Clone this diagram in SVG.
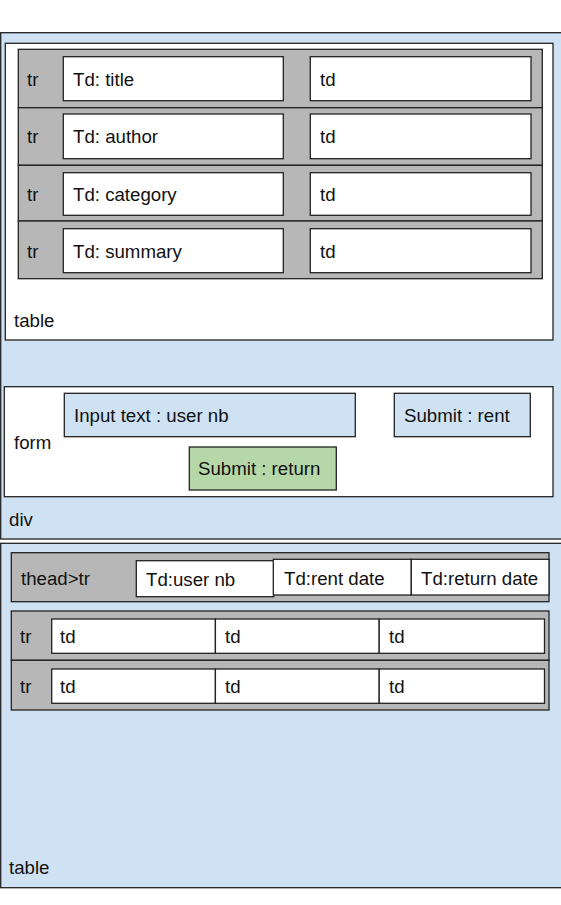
<svg xmlns="http://www.w3.org/2000/svg" width="561" height="905" viewBox="0 0 561 905">
<style>
  rect { stroke: #222222; stroke-width: 1.3; }
  rect.bg { fill: #ffffff; stroke: none; }
  .blue { fill: #cfe2f3; }
  .white { fill: #ffffff; }
  .gray { fill: #b7b7b7; }
  .green { fill: #b6d7a8; }
  text { font-family: "Liberation Sans", Arial, sans-serif; font-size: 18.67px; fill: #111111; }
</style>
<rect class="bg" x="0" y="0" width="561" height="905"/>

<g id="div">
  <rect class="blue" x="0.7" y="32.7" width="600" height="506.3"/>
  <text x="9" y="526">div</text>
</g>

<g id="table1">
  <rect class="white" x="5.3" y="43.3" width="547.7" height="296.7"/>
  <text x="14" y="327">table</text>
</g>

<g id="tr1">
  <rect class="gray" x="18.3" y="49.3" width="524" height="58.4"/>
  <text x="27" y="85.5">tr</text>
  <rect class="white" x="63.3" y="56.7" width="220" height="44"/>
  <text x="73" y="85.5">Td: title</text>
  <rect class="white" x="310.3" y="56.7" width="220.7" height="44"/>
  <text x="320" y="85.5">td</text>
</g>
<g id="tr2">
  <rect class="gray" x="18.3" y="107.7" width="524" height="57.6"/>
  <text x="27" y="143">tr</text>
  <rect class="white" x="63.3" y="114" width="220" height="44.7"/>
  <text x="73" y="143">Td: author</text>
  <rect class="white" x="310.3" y="114" width="220.7" height="44.7"/>
  <text x="320" y="143">td</text>
</g>
<g id="tr3">
  <rect class="gray" x="18.3" y="165.3" width="524" height="55.7"/>
  <text x="27" y="200.5">tr</text>
  <rect class="white" x="63.3" y="172.7" width="220" height="42.6"/>
  <text x="73" y="200.5">Td: category</text>
  <rect class="white" x="310.3" y="172.7" width="220.7" height="42.6"/>
  <text x="320" y="200.5">td</text>
</g>
<g id="tr4">
  <rect class="gray" x="18.3" y="221" width="524" height="57.7"/>
  <text x="27" y="257.5">tr</text>
  <rect class="white" x="63.3" y="228.7" width="220" height="44"/>
  <text x="73" y="257.5">Td: summary</text>
  <rect class="white" x="310.3" y="228.7" width="220.7" height="44"/>
  <text x="320" y="257.5">td</text>
</g>

<g id="form">
  <rect class="white" x="4.3" y="386.7" width="548.7" height="110"/>
  <text x="14" y="449">form</text>
</g>
<g id="input-user">
  <rect class="blue" x="64.3" y="393.3" width="291" height="43.4"/>
  <text x="74" y="421.5">Input text : user nb</text>
</g>
<g id="submit-rent">
  <rect class="blue" x="394.3" y="393.3" width="136" height="43.4"/>
  <text x="404" y="421.5">Submit : rent</text>
</g>
<g id="submit-return">
  <rect class="green" x="189.3" y="447" width="147" height="43"/>
  <text x="198" y="474.5">Submit : return</text>
</g>

<g id="table2">
  <rect class="blue" x="0.7" y="543.3" width="600" height="344.4"/>
  <text x="9" y="874">table</text>
</g>

<g id="thead-tr">
  <rect class="gray" x="11.3" y="552.7" width="537.7" height="49"/>
  <text x="21" y="584.5">thead&gt;tr</text>
  <rect class="white" x="136.3" y="560.7" width="137.4" height="36"/>
  <text x="146" y="585.5">Td:user nb</text>
  <rect class="white" x="273.3" y="559.3" width="138" height="35.7"/>
  <text x="284" y="584.5">Td:rent date</text>
  <rect class="white" x="411.3" y="559.3" width="137.7" height="35.7"/>
  <text x="421" y="584.5">Td:return date</text>
</g>

<g id="body-tr1">
  <rect class="gray" x="11.3" y="611" width="537.7" height="49.3"/>
  <text x="20" y="642.5">tr</text>
  <rect class="white" x="51.7" y="619" width="163.7" height="34.3"/>
  <text x="60" y="642.5">td</text>
  <rect class="white" x="215.4" y="619" width="163.8" height="34.3"/>
  <text x="225" y="642.5">td</text>
  <rect class="white" x="379.2" y="619" width="165.3" height="34.3"/>
  <text x="389" y="642.5">td</text>
</g>
<g id="body-tr2">
  <rect class="gray" x="11.3" y="660.3" width="537.7" height="49.7"/>
  <text x="20" y="692.5">tr</text>
  <rect class="white" x="51.7" y="669" width="163.7" height="34.3"/>
  <text x="60" y="692.5">td</text>
  <rect class="white" x="215.4" y="669" width="163.8" height="34.3"/>
  <text x="225" y="692.5">td</text>
  <rect class="white" x="379.2" y="669" width="165.3" height="34.3"/>
  <text x="389" y="692.5">td</text>
</g>

<g id="connectors"></g>
</svg>
